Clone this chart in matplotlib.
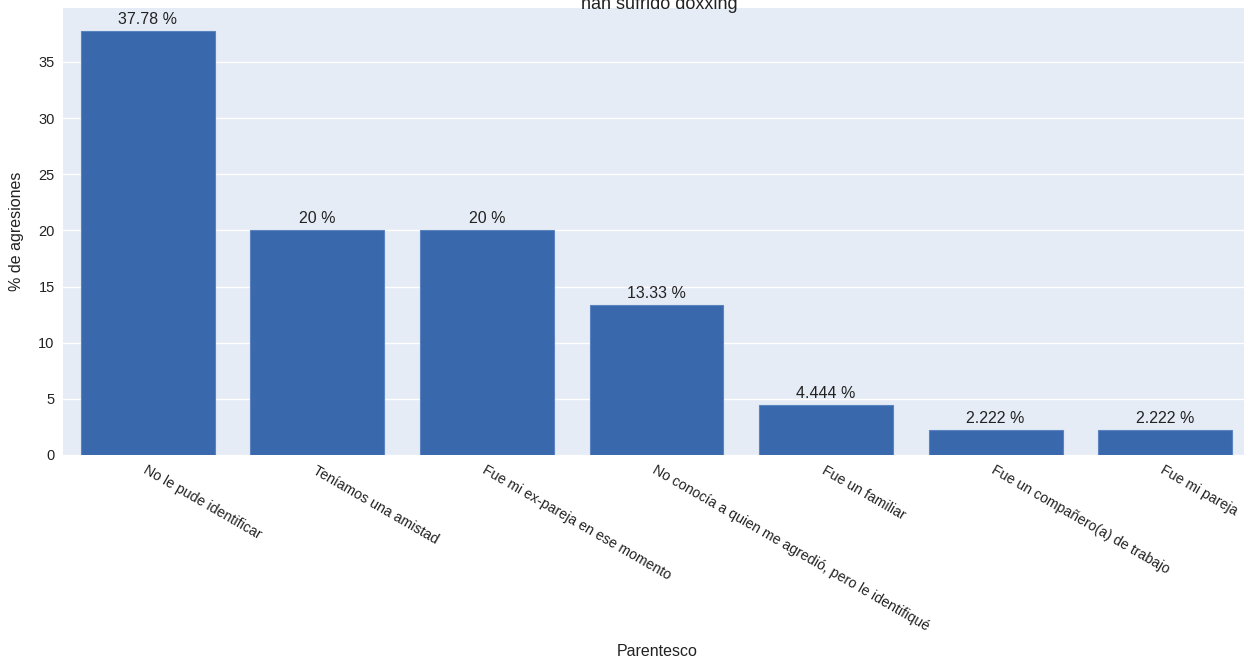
import matplotlib.pyplot as plt

plt.rcParams['font.family'] = ['Liberation Sans', 'DejaVu Sans']

categorias = ["No le pude identificar", "Teníamos una amistad",
              "Fue mi ex-pareja en ese momento",
              "No conocía a quien me agredió, pero le identifiqué",
              "Fue un familiar", "Fue un compañero(a) de trabajo", "Fue mi pareja"]
porcentajes = [37.78, 20, 20, 13.33, 4.444, 2.222, 2.222]
etiquetas = ["37.78 %", "20 %", "20 %", "13.33 %", "4.444 %", "2.222 %", "2.222 %"]

fig = plt.figure(figsize=(12.44, 6.64), dpi=100)
ax = fig.add_axes([63 / 1244, 1 - 455 / 664, 1187 / 1244, 447 / 664])
ax.set_facecolor('#E5ECF6')

x = range(len(categorias))
bars = ax.bar(x, porcentajes, width=0.79, color='#3A68AC', edgecolor='#5b83c0',
              linewidth=0.8, zorder=3)
for b, t in zip(bars, etiquetas):
    ax.annotate(t, (b.get_x() + b.get_width() / 2, b.get_height()),
                xytext=(0, 3), textcoords='offset points',
                ha='center', va='bottom', fontsize=11.5, color='#222')

ax.set_xlim(-0.5, 6.5)
ax.set_ylim(0, 39.8)
ax.set_yticks(range(0, 40, 5))
ax.grid(axis='y', color='white', linewidth=1, zorder=0)
for s in ax.spines.values():
    s.set_visible(False)
ax.tick_params(length=0, labelsize=10.5, colors='#222', pad=6)
ax.set_xticks(list(x))
ax.set_xticklabels(categorias, rotation=-30, ha='left', va='top',
                   rotation_mode='anchor')
for lbl in ax.get_xticklabels():
    lbl.set_fontsize(10.2)

ax.set_ylabel('% de agresiones', fontsize=11.5, color='#222', labelpad=10)
fig.text(657 / 1244, 1 - 652 / 664, 'Parentesco', ha='center', va='center',
         fontsize=11.5, color='#222')
fig.text(659 / 1244, 1 - 9 / 664, 'han sufrido doxxing', ha='center',
         va='baseline', fontsize=13, color='#222')

fig.savefig('out.png', dpi=100)
